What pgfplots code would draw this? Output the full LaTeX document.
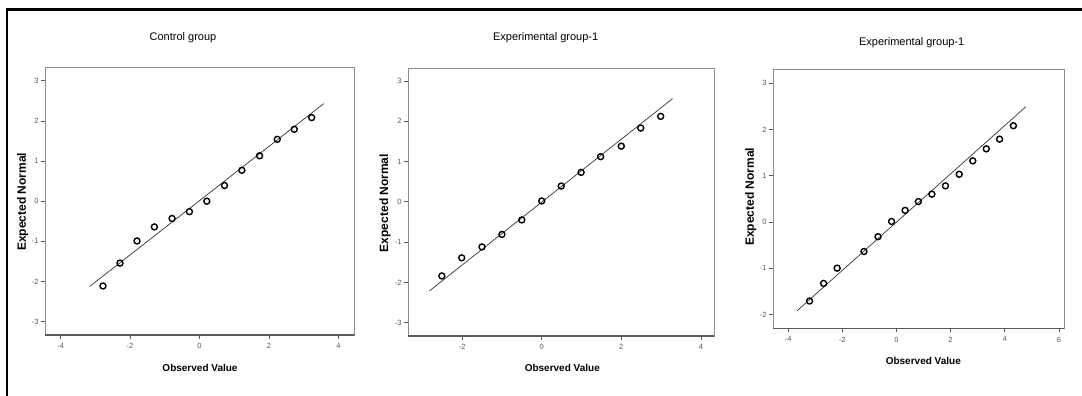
\documentclass[border=0pt]{standalone}
\usepackage{fontspec}
\setmainfont{Liberation Sans}
\usepackage{pgfplots}
\pgfplotsset{compat=1.18}
\definecolor{framec}{gray}{0.55}
\definecolor{tickc}{gray}{0.35}
\definecolor{linec}{gray}{0.2}
\pgfplotsset{
  qq/.style={
    scale only axis,
    axis line style={framec, line width=0.8pt},
    tick style={tickc, line width=0.6pt},
    tick align=outside,
    major tick length=4pt,
    xtick pos=bottom, ytick pos=left,
    ticklabel style={font=\fontsize{7.5}{8}\selectfont, text=tickc},
    xticklabel style={yshift=-1pt},
    yticklabel style={xshift=1pt},
    /pgf/number format/assume math mode=true,
    clip=false,
    after end axis/.code={\draw[tickc, line width=1.1pt] (rel axis cs:0,0) -- (rel axis cs:1,0);},
  },
  pts/.style={only marks, mark=o, mark size=3pt, mark options={line width=1.4pt, black}},
  fit/.style={linec, line width=0.7pt, no marks},
}
\begin{document}
\begin{tikzpicture}[x=1pt,y=1pt]
\path[use as bounding box] (0,0) rectangle (1082,396);
% outer frame lines
\draw[black, line width=3pt] (6,386.5) -- (1082,386.5);
\draw[black, line width=2pt] (7,388) -- (7,0);

% Panel 1
\begin{axis}[qq, at={(45pt,61pt)}, anchor=south west, width=309pt, height=268pt,
  xmin=-4.45, xmax=4.45, ymin=-3.33, ymax=3.34,
  xtick={-4,-2,0,2,4}, ytick={-3,-2,-1,0,1,2,3}]
\addplot[fit] coordinates {(-3.16,-2.12) (3.58,2.43)};
\addplot[pts] coordinates {
(-2.78,-2.11) (-2.29,-1.54) (-1.80,-0.99) (-1.30,-0.64) (-0.79,-0.43)
(-0.29,-0.26) (0.21,0.00) (0.72,0.39) (1.22,0.77) (1.73,1.13)
(2.24,1.54) (2.73,1.79) (3.23,2.08)};
\end{axis}

% Panel 2
\begin{axis}[qq, at={(408pt,60pt)}, anchor=south west, width=306pt, height=268pt,
  xmin=-3.36, xmax=4.33, ymin=-3.33, ymax=3.32,
  xtick={-2,0,2,4}, ytick={-3,-2,-1,0,1,2,3}]
\addplot[fit] coordinates {(-2.82,-2.21) (3.29,2.56)};
\addplot[pts] coordinates {
(-2.51,-1.84) (-2.01,-1.39) (-1.50,-1.12) (-1.00,-0.81) (-0.50,-0.45)
(0.00,0.02) (0.49,0.39) (0.99,0.73) (1.48,1.12) (2.00,1.38)
(2.49,1.83) (2.99,2.12)};
\end{axis}

% Panel 3
\begin{axis}[qq, at={(773pt,67.7pt)}, anchor=south west, width=291pt, height=259pt,
  xmin=-4.56, xmax=6.19, ymin=-2.30, ymax=3.30,
  xtick={-4,-2,0,2,4,6}, ytick={-2,-1,0,1,2,3}]
\addplot[fit] coordinates {(-3.67,-1.92) (4.78,2.49)};
\addplot[pts] coordinates {
(-3.21,-1.71) (-2.69,-1.33) (-2.19,-1.00) (-1.20,-0.64) (-0.68,-0.32)
(-0.18,0.01) (0.32,0.25) (0.81,0.44) (1.31,0.60) (1.81,0.78)
(2.32,1.03) (2.82,1.32) (3.32,1.58) (3.81,1.79) (4.32,2.08)};
\end{axis}

% titles
\node[font=\fontsize{11}{12}\selectfont] at (183,358.3) {Control group};
\node[font=\fontsize{11}{12}\selectfont] at (545.7,358.3) {Experimental group-1};
\node[font=\fontsize{11}{12}\selectfont] at (911.7,353.7) {Experimental group-1};
% x labels
\node[font=\bfseries\fontsize{10}{12}\selectfont] at (200,28.3) {Observed Value};
\node[font=\bfseries\fontsize{10}{12}\selectfont] at (562.3,27.7) {Observed Value};
\node[font=\bfseries\fontsize{10}{12}\selectfont] at (923.3,35.3) {Observed Value};
% y labels
\node[font=\bfseries\fontsize{12}{14}\selectfont, rotate=90] at (22.7,194.3) {Expected Normal};
\node[font=\bfseries\fontsize{12}{14}\selectfont, rotate=90] at (385,193) {Expected Normal};
\node[font=\bfseries\fontsize{12}{14}\selectfont, rotate=90] at (750.7,199.3) {Expected Normal};
\end{tikzpicture}
\end{document}
